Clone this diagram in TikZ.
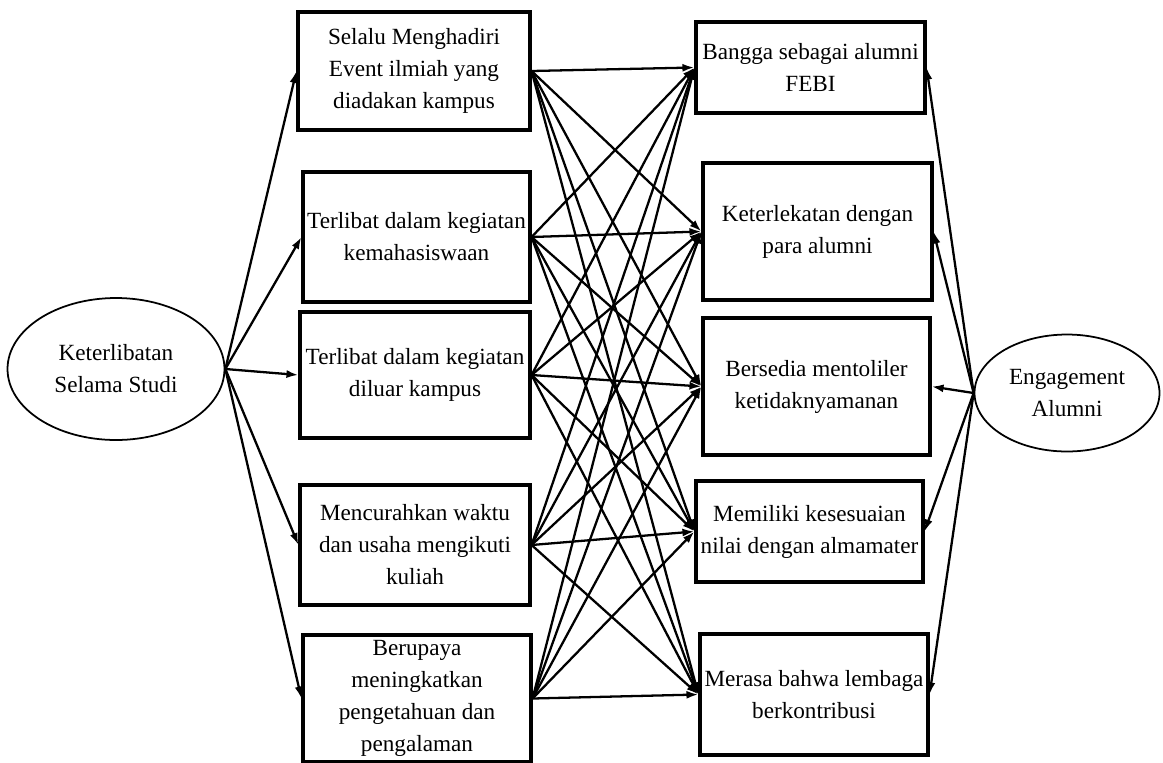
\documentclass[tikz,border=0pt]{standalone}
\usepackage{fontspec}
\setmainfont{Liberation Serif}
\usetikzlibrary{arrows.meta, shapes.geometric}

\tikzset{
  itembox/.style={draw, line width=1.8pt, align=center, inner sep=0pt,
    font=\fontsize{13.2}{18.2}\selectfont},
  latent/.style={draw, ellipse, line width=1pt, align=center, inner sep=0pt,
    font=\fontsize{13.2}{18.2}\selectfont},
  link/.style={line width=1.3pt, -{Latex[length=2.4mm, width=1.6mm]}}
}

\begin{document}
\begin{tikzpicture}[x=0.02cm, y=-0.02cm]
  \useasboundingbox (0,0) rectangle (1163,762);

  % Latent variables
  \node[latent, minimum width=4.34cm, minimum height=2.84cm] (studi) at (116,369) {Keterlibatan\\Selama Studi};
  \node[latent, minimum width=3.7cm, minimum height=2.34cm] (alumni) at (1067,393) {Engagement\\Alumni};

  % Indicators: Keterlibatan Selama Studi
  \node[itembox, minimum width=4.64cm, minimum height=2.36cm] (hadir) at (414,71) {Selalu Menghadiri\\Event ilmiah yang\\diadakan kampus};
  \node[itembox, minimum width=4.54cm, minimum height=2.6cm] (mhs) at (416.5,237) {Terlibat dalam kegiatan\\kemahasiswaan};
  \node[itembox, minimum width=4.6cm, minimum height=2.52cm] (luar) at (415,375) {Terlibat dalam kegiatan\\diluar kampus};
  \node[itembox, minimum width=4.6cm, minimum height=2.4cm] (kuliah) at (415,545) {Mencurahkan waktu\\dan usaha mengikuti\\kuliah};
  \node[itembox, minimum width=4.56cm, minimum height=2.54cm] (upaya) at (417,698.5) {Berupaya\\meningkatkan\\pengetahuan dan\\pengalaman};

  % Indicators: Engagement Alumni
  \node[itembox, minimum width=4.58cm, minimum height=1.82cm] (bangga) at (810.5,67.5) {Bangga sebagai alumni\\FEBI};
  \node[itembox, minimum width=4.58cm, minimum height=2.74cm] (lekat) at (817.5,231.5) {Keterlekatan dengan\\para alumni};
  \node[itembox, minimum width=4.54cm, minimum height=2.74cm] (toler) at (816.5,386.5) {Bersedia mentoliler\\ketidaknyamanan};
  \node[itembox, minimum width=4.54cm, minimum height=2.02cm] (nilai) at (809.5,531.5) {Memiliki kesesuaian\\nilai dengan almamater};
  \node[itembox, minimum width=4.56cm, minimum height=2.42cm] (kontri) at (814,694.5) {Merasa bahwa lembaga\\berkontribusi};

  % Left fan
  \draw[link] (studi.east) -- (hadir.west);
  \draw[link] (studi.east) -- (mhs.west);
  \draw[link] (studi.east) -- (luar.west);
  \draw[link] (studi.east) -- (kuliah.west);
  \draw[link] (studi.east) -- (upaya.west);

  % Right fan
  \draw[link] (alumni.west) -- (bangga.east);
  \draw[link] (alumni.west) -- (lekat.east);
  \draw[link] (alumni.west) -- (toler.east);
  \draw[link] (alumni.west) -- (nilai.east);
  \draw[link] (alumni.west) -- (kontri.east);

  % Cross links: hadir
  \draw[link] (hadir.east) -- (bangga.west);
  \draw[link] (hadir.east) -- (lekat.west);
  \draw[link] (hadir.east) -- (toler.west);
  \draw[link] (hadir.east) -- (nilai.west);
  \draw[link] (hadir.east) -- (kontri.west);

  % Cross links: mhs
  \draw[link] (mhs.east) -- (bangga.west);
  \draw[link] (mhs.east) -- (lekat.west);
  \draw[link] (mhs.east) -- (toler.west);
  \draw[link] (mhs.east) -- (nilai.west);
  \draw[link] (mhs.east) -- (kontri.west);

  % Cross links: luar
  \draw[link] (luar.east) -- (bangga.west);
  \draw[link] (luar.east) -- (lekat.west);
  \draw[link] (luar.east) -- (toler.west);
  \draw[link] (luar.east) -- (nilai.west);
  \draw[link] (luar.east) -- (kontri.west);

  % Cross links: kuliah
  \draw[link] (kuliah.east) -- (bangga.west);
  \draw[link] (kuliah.east) -- (lekat.west);
  \draw[link] (kuliah.east) -- (toler.west);
  \draw[link] (kuliah.east) -- (nilai.west);
  \draw[link] (kuliah.east) -- (kontri.west);

  % Cross links: upaya
  \draw[link] (upaya.east) -- (bangga.west);
  \draw[link] (upaya.east) -- (lekat.west);
  \draw[link] (upaya.east) -- (toler.west);
  \draw[link] (upaya.east) -- (nilai.west);
  \draw[link] (upaya.east) -- (kontri.west);
\end{tikzpicture}
\end{document}
